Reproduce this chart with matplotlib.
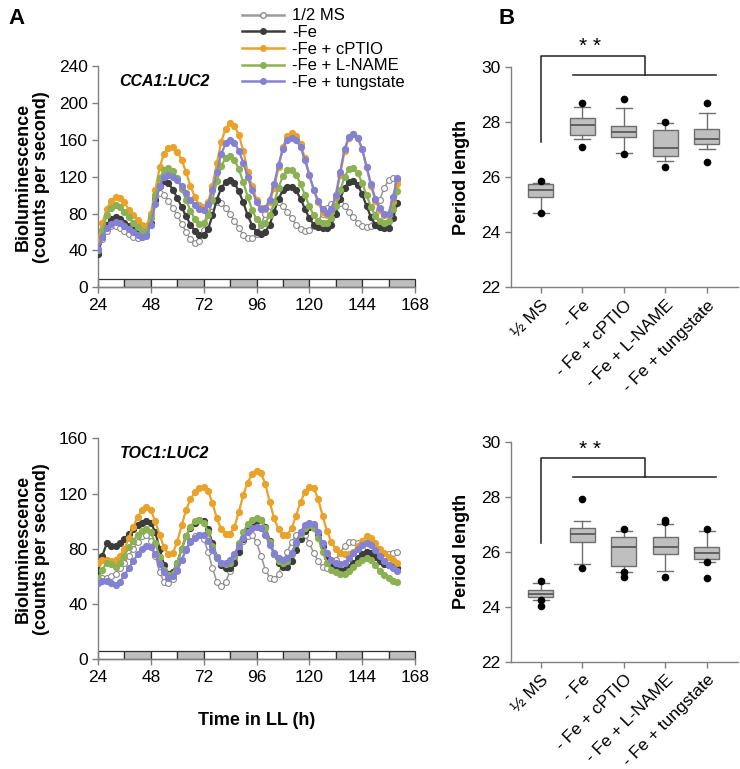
import numpy as np
import matplotlib
matplotlib.use("Agg")
import matplotlib.pyplot as plt
from matplotlib.patches import Rectangle
from matplotlib.lines import Line2D

plt.rcParams['font.family'] = ['Liberation Sans', 'DejaVu Sans']

# ---------------- data ----------------
time_h = list(range(24, 161, 2))

series_names = ["1/2 MS", "-Fe", "-Fe + cPTIO", "-Fe + L-NAME", "-Fe + tungstate"]

# CCA1:LUC2 (counts per second)
cca1_ms = [38, 52, 61, 66, 66, 64, 61, 58, 55, 54, 55, 62, 80, 97, 102, 100, 94, 86, 78, 69,
           60, 52, 48, 50, 62, 78, 88, 92, 91, 86, 79, 72, 64, 57, 53, 53, 58, 68, 80, 88,
           92, 92, 88, 82, 75, 68, 63, 61, 62, 66, 72, 80, 86, 90, 91, 91, 88, 82, 76, 70,
           66, 65, 67, 78, 95, 108, 116, 119, 116]
cca1_fe = [36, 55, 68, 74, 76, 74, 70, 66, 62, 59, 57, 58, 70, 95, 110, 115, 113, 106, 97, 87,
           77, 68, 61, 57, 57, 63, 78, 95, 108, 114, 116, 113, 104, 92, 78, 67, 60, 58, 60, 68,
           82, 96, 105, 109, 109, 105, 96, 85, 75, 68, 65, 64, 64, 68, 80, 96, 108, 114, 115, 111,
           101, 88, 76, 68, 65, 64, 64, 75, 91]
cca1_cptio = [50, 70, 85, 94, 98, 97, 92, 84, 78, 73, 68, 67, 80, 105, 130, 145, 151, 152, 147, 138,
              125, 110, 98, 89, 87, 92, 110, 135, 158, 172, 178, 175, 165, 148, 125, 110, 95, 86, 85, 92,
              108, 130, 152, 164, 167, 164, 155, 140, 122, 105, 92, 82, 78, 82, 98, 122, 148, 162, 166, 162,
              150, 130, 110, 94, 84, 78, 78, 92, 112]
cca1_lname = [40, 62, 78, 86, 89, 87, 82, 76, 70, 65, 61, 60, 75, 100, 118, 127, 129, 126, 118, 107,
              95, 83, 74, 69, 70, 78, 95, 115, 132, 140, 142, 138, 128, 114, 98, 84, 74, 69, 70, 78,
              92, 108, 121, 127, 127, 122, 112, 100, 88, 78, 72, 70, 70, 75, 88, 105, 120, 128, 129, 124,
              113, 100, 87, 77, 72, 70, 72, 85, 104]
cca1_tung = [42, 55, 64, 69, 71, 70, 67, 63, 60, 57, 55, 56, 68, 90, 110, 120, 122, 120, 116, 110,
             102, 95, 89, 85, 84, 90, 105, 125, 145, 156, 160, 157, 148, 135, 120, 105, 93, 85, 86, 95,
             112, 133, 150, 160, 162, 160, 152, 138, 122, 106, 94, 85, 81, 85, 100, 125, 150, 163, 166, 162,
             150, 131, 112, 96, 86, 79, 80, 98, 119]

# TOC1:LUC2 (counts per second)
toc1_ms = [60, 59, 59, 60, 62, 66, 70, 75, 80, 85, 89, 90, 86, 75, 63, 56, 55, 58, 64, 72,
           80, 86, 89, 90, 87, 78, 66, 56, 53, 56, 64, 72, 80, 86, 89, 90, 85, 75, 65, 59,
           58, 62, 70, 78, 85, 90, 92, 90, 84, 77, 71, 67, 66, 68, 72, 77, 82, 85, 85, 84,
           80, 77, 75, 74, 74, 75, 76, 77, 78]
toc1_fe = [64, 75, 84, 82, 82, 84, 87, 91, 94, 97, 99, 100, 99, 92, 80, 68, 62, 63, 70, 80,
           89, 95, 99, 101, 100, 94, 84, 74, 68, 66, 66, 70, 78, 87, 94, 98, 100, 101, 96, 86,
           76, 70, 67, 67, 71, 79, 87, 93, 96, 96, 91, 82, 74, 69, 66, 65, 65, 67, 70, 73,
           76, 78, 77, 74, 71, 69, 68, 67, 66]
toc1_cptio = [70, 72, 72, 71, 72, 75, 80, 88, 96, 103, 108, 110, 108, 100, 90, 81, 76, 77, 85, 97,
              108, 116, 121, 124, 125, 122, 113, 102, 94, 91, 91, 96, 107, 119, 128, 134, 136, 135, 127, 114,
              102, 94, 90, 90, 95, 104, 114, 121, 125, 124, 116, 104, 93, 85, 80, 77, 76, 76, 78, 82,
              86, 89, 88, 84, 80, 77, 74, 72, 70]
toc1_lname = [58, 65, 70, 69, 67, 70, 75, 81, 86, 90, 93, 94, 92, 84, 74, 65, 61, 62, 70, 80,
              89, 96, 100, 101, 99, 92, 82, 74, 70, 69, 70, 75, 84, 92, 98, 101, 102, 101, 95, 85,
              76, 71, 70, 71, 76, 84, 91, 95, 97, 95, 88, 78, 70, 65, 63, 62, 62, 64, 67, 70,
              72, 73, 72, 68, 64, 61, 59, 57, 56]
toc1_tung = [55, 57, 57, 55, 54, 56, 61, 66, 71, 76, 80, 82, 81, 76, 69, 63, 59, 60, 65, 72,
             79, 85, 88, 90, 90, 86, 79, 73, 70, 70, 72, 76, 82, 88, 92, 95, 96, 95, 90, 83,
             77, 73, 72, 73, 77, 85, 92, 97, 99, 98, 92, 84, 77, 72, 70, 69, 70, 73, 77, 80,
             83, 84, 83, 79, 75, 71, 68, 66, 64]

# Period length box statistics (h)
box_labels = ["\u00bd MS", "- Fe", "- Fe + cPTIO", "- Fe + L-NAME", "- Fe + tungstate"]
cca1_q1 = [25.29, 27.51, 27.44, 26.75, 27.20]
cca1_med = [25.53, 27.87, 27.62, 27.04, 27.39]
cca1_q3 = [25.73, 28.13, 27.84, 27.69, 27.75]
cca1_wlo = [24.68, 27.39, 26.88, 26.57, 27.02]
cca1_whi = [25.79, 28.55, 28.51, 27.95, 28.31]
cca1_out = [[25.85, 24.68], [28.69, 27.09], [28.82, 26.85], [28.00, 26.35], [28.69, 26.54]]

toc1_q1 = [24.34, 26.34, 25.47, 25.90, 25.72]
toc1_med = [24.46, 26.65, 26.16, 26.16, 25.94]
toc1_q3 = [24.59, 26.85, 26.55, 26.52, 26.16]
toc1_wlo = [24.24, 25.55, 25.25, 25.30, 25.62]
toc1_whi = [24.88, 27.13, 26.75, 26.99, 26.75]
toc1_out = [[24.95, 24.25, 24.02], [27.93, 25.41], [26.81, 25.28, 25.07],
            [27.15, 27.08, 25.07], [26.81, 25.62, 25.03]]

# ---------------- style ----------------
colors = ["#9a9a9a", "#3c3c3c", "#e9a22a", "#8cb152", "#8481d2"]
axis_gray = "#808080"

W, H = 740, 769
fig = plt.figure(figsize=(W / 100, H / 100), dpi=100)


def px_axes(x0, y_top, x1, y_bot):
    return fig.add_axes([x0 / W, 1 - y_bot / H, (x1 - x0) / W, (y_bot - y_top) / H])


def style_axes(ax):
    for s in ["top", "right"]:
        ax.spines[s].set_visible(False)
    for s in ["left", "bottom"]:
        ax.spines[s].set_color(axis_gray)
        ax.spines[s].set_linewidth(1.0)
    ax.tick_params(colors=axis_gray, labelcolor="black", labelsize=12.5, length=4, width=1.0)


def lum_panel(ax, ydata, ymax, bar_h, gene):
    for i, (name, ys) in enumerate(zip(series_names, ydata)):
        if i == 0:
            ax.plot(time_h, ys, color=colors[i], lw=1.2, marker="o", ms=4.2,
                    mfc="white", mec="#8a8a8a", mew=0.8, zorder=2)
        else:
            ax.plot(time_h, ys, color=colors[i], lw=1.6, marker="o", ms=4.2,
                    mfc=colors[i], mec=colors[i], zorder=3)
    # light/dark bar
    for k, t0 in enumerate(range(24, 168, 12)):
        fc = "white" if k % 2 == 0 else "#bfbfbf"
        ax.add_patch(Rectangle((t0, 0), 12, bar_h, facecolor=fc, edgecolor="#303030",
                               lw=0.9, zorder=1, clip_on=False))
    ax.set_xlim(24, 168)
    ax.set_ylim(0, ymax)
    ax.set_xticks(range(24, 169, 24))
    ax.set_yticks(range(0, ymax + 1, 40))
    style_axes(ax)
    ax.set_ylabel("Bioluminescence\n(counts per second)", fontsize=13,
                  fontweight="bold", labelpad=6, linespacing=1.1)
    ax.text(0.21, 0.93, gene, transform=ax.transAxes, fontsize=11.5,
            fontweight="bold", fontstyle="italic", ha="center", va="center")


ax1 = px_axes(98, 66, 415, 287.3)
lum_panel(ax1, [cca1_ms, cca1_fe, cca1_cptio, cca1_lname, cca1_tung], 240, 9, "CCA1:LUC2")

ax2 = px_axes(98, 438.3, 415, 659.3)
lum_panel(ax2, [toc1_ms, toc1_fe, toc1_cptio, toc1_lname, toc1_tung], 160, 6, "TOC1:LUC2")
ax2.set_xlabel("Time in LL (h)", fontsize=13, fontweight="bold", labelpad=20)


def box_panel(ax, q1, med, q3, wlo, whi, outs, bracket):
    stats = []
    for i in range(5):
        stats.append(dict(q1=q1[i], med=med[i], q3=q3[i], whislo=wlo[i],
                          whishi=whi[i], fliers=outs[i], label=box_labels[i]))
    ax.bxp(stats, positions=range(1, 6), widths=0.6, patch_artist=True,
           boxprops=dict(facecolor="#bfbfbf", edgecolor="#6e6e6e", lw=1.0),
           medianprops=dict(color="#5a5a5a", lw=1.3),
           whiskerprops=dict(color="#6e6e6e", lw=1.0),
           capprops=dict(color="#6e6e6e", lw=1.0), capwidths=0.38,
           flierprops=dict(marker="o", markerfacecolor="black", markeredgecolor="black",
                           markersize=4.5))
    ax.set_xlim(0.28, 5.75)
    ax.set_ylim(22, 30)
    ax.set_yticks(range(22, 31, 2))
    ax.set_xticks(range(1, 6))
    ax.set_xticklabels(box_labels, rotation=45, ha="right", rotation_mode="anchor",
                       fontsize=12.5)
    style_axes(ax)
    ax.set_ylabel("Period length", fontsize=13, fontweight="bold", labelpad=8)
    top, hline, left_low, star_y = bracket
    kw = dict(color="#202020", lw=1.1, clip_on=False)
    ax.plot([1, 1, 3.5, 3.5], [left_low, top, top, hline], **kw)
    ax.plot([1.79, 5.22], [hline, hline], **kw)
    ax.text(2.2, star_y, "* *", fontsize=15, ha="center", va="center", clip_on=False)


ax3 = px_axes(510.7, 66.7, 738, 287.3)
box_panel(ax3, cca1_q1, cca1_med, cca1_q3, cca1_wlo, cca1_whi, cca1_out,
          (30.39, 29.71, 27.26, 30.72))

ax4 = px_axes(510.7, 441.7, 738, 661.7)
box_panel(ax4, toc1_q1, toc1_med, toc1_q3, toc1_wlo, toc1_whi, toc1_out,
          (29.40, 28.73, 26.30, 29.70))

# legend
handles = []
for i, name in enumerate(series_names):
    if i == 0:
        h = Line2D([], [], color=colors[i], lw=1.8, marker="o", ms=4, mfc="white", mec="#8a8a8a")
    else:
        h = Line2D([], [], color=colors[i], lw=1.8, marker="o", ms=4, mfc=colors[i], mec=colors[i])
    handles.append(h)
fig.legend(handles, series_names, loc="upper left", bbox_to_anchor=(234 / W, 1.0),
           frameon=False, fontsize=12, handlelength=2.5, labelspacing=0.1,
           handletextpad=0.5, borderpad=0.0)

fig.text(8 / W, 1 - 18 / H, "A", fontsize=16, fontweight="bold", va="center")
fig.text(498 / W, 1 - 18 / H, "B", fontsize=16, fontweight="bold", va="center")

fig.savefig("out.png", dpi=100)
